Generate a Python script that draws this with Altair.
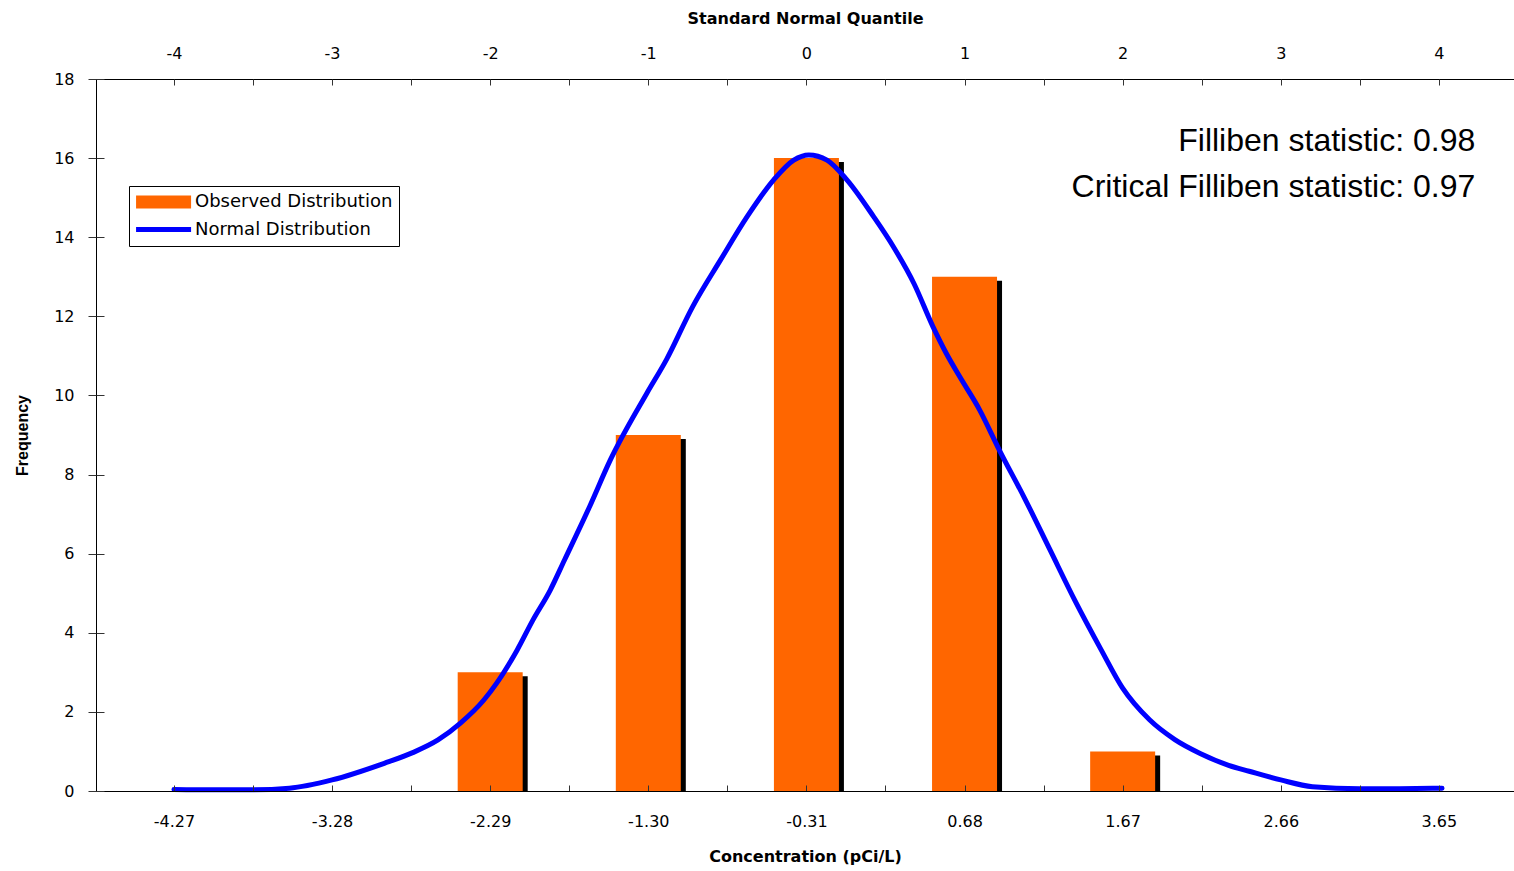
import altair as alt
import pandas as pd

# ---- data ----
quantile_ticks = [-4, -3, -2, -1, 0, 1, 2, 3, 4]
half_ticks = [-4, -3.5, -3, -2.5, -2, -1.5, -1, -0.5, 0, 0.5, 1, 1.5, 2, 2.5, 3, 3.5, 4]
conc_labels = ["-4.27", "-3.28", "-2.29", "-1.30", "-0.31", "0.68", "1.67", "2.66", "3.65"]
freq_ticks = [0, 2, 4, 6, 8, 10, 12, 14, 16, 18]

bar_quantile = [-2, -1, 0, 1, 2]
bar_frequency = [3, 9, 16, 13, 1]

curve_quantile = [-4.0, -3.75, -3.5, -3.27, -3.0, -2.67, -2.49, -2.33, -2.19, -2.04,
                  -1.96, -1.83, -1.73, -1.62, -1.53, -1.37, -1.24, -1.01, -0.886, -0.72,
                  -0.544, -0.375, -0.207, -0.08, 0.015, 0.13, 0.256, 0.425, 0.55, 0.68,
                  0.80, 0.885, 0.97, 1.096, 1.22, 1.38, 1.54, 1.70, 1.86, 2.0,
                  2.17, 2.33, 2.49, 2.67, 2.8, 3.0, 3.2, 3.5, 3.75, 4.02]
curve_frequency = [0.04, 0.03, 0.03, 0.07, 0.28, 0.70, 0.97, 1.29, 1.71, 2.30,
                   2.72, 3.56, 4.32, 5.08, 5.84, 7.20, 8.37, 10.05, 10.90, 12.24,
                   13.42, 14.52, 15.45, 15.95, 16.08, 15.95, 15.45, 14.52, 13.76, 12.83,
                   11.74, 11.06, 10.47, 9.63, 8.62, 7.40, 6.10, 4.80, 3.60, 2.60,
                   1.80, 1.30, 0.95, 0.65, 0.50, 0.28, 0.11, 0.06, 0.06, 0.07]

series_names = ["Observed Distribution", "Normal Distribution"]
filliben_stat = 0.98
critical_filliben = 0.97
annotation_lines = [f"Filliben statistic: {filliben_stat:.2f}",
                    f"Critical Filliben statistic: {critical_filliben:.2f}"]

bars = pd.DataFrame({"q": bar_quantile, "freq": bar_frequency})
curve = pd.DataFrame({"q": curve_quantile, "freq": curve_frequency,
                      "series": ["Normal Distribution"] * len(curve_quantile)})
notes = pd.DataFrame({"label": annotation_lines, "freq": [16.44, 15.27]})

FONT = "Liberation Sans"
WIDE = "DejaVu Sans"
ORANGE = "#FF6600"
BLUE = "#0000FF"

xs = alt.Scale(domain=[-4.493, 4.475], nice=False, zero=False, padding=0)
ys = alt.Scale(domain=[0, 18], nice=False, zero=False, padding=0)

label_expr = ("[" + ",".join(f"'{s}'" for s in conc_labels) + "][indexof(["
              + ",".join(str(v) for v in quantile_ticks) + "], datum.value)]")

# shadow bars + inward tick axes (bottom and left)
shadow = alt.Chart(bars).mark_bar(width=65, color="black", xOffset=5, x2Offset=5, yOffset=4,
                                  clip=True).encode(
    x=alt.X("q:Q", scale=xs,
            axis=alt.Axis(orient="bottom", offset=-6, tickSize=6, domain=False, labels=False,
                          grid=False, values=half_ticks, title=None, tickColor="#333333", zindex=1)),
    y=alt.Y("freq:Q", scale=ys,
            axis=alt.Axis(orient="left", offset=-8, tickSize=8, domain=False, labels=False,
                          grid=False, values=freq_ticks, title=None, tickColor="#333333", zindex=1)),
)

observed = alt.Chart(bars).mark_bar(width=65, color=ORANGE).encode(
    x=alt.X("q:Q", scale=xs,
            axis=alt.Axis(orient="bottom", values=quantile_ticks, labelExpr=label_expr, ticks=False,
                          tickSize=0, labelPadding=22, title="Concentration (pCi/L)",
                          titleFont=WIDE, titleFontSize=16, titlePadding=19,
                          domainColor="black", zindex=1)),
    y=alt.Y("freq:Q", scale=ys,
            axis=alt.Axis(orient="left", values=freq_ticks, tickSize=8, labelPadding=14,
                          title="Frequency", titleFont=FONT, titleFontSize=16, titlePadding=23,
                          domainColor="black", tickColor="#333333")),
)

legend = alt.Legend(title=None, orient="none", legendX=33, legendY=107,
                    symbolType="M-2.6,0H13.4", symbolSize=47.3, labelFont=WIDE, labelFontSize=18,
                    labelColor="black", labelOffset=40, labelLimit=500, clipHeight=20,
                    strokeColor="black", fillColor="white", padding=6, rowPadding=7.5)

normal = alt.Chart(curve).mark_line(interpolate="monotone", strokeCap="round",
                                    strokeJoin="round").encode(
    x=alt.X("q:Q", scale=xs,
            axis=alt.Axis(orient="top", values=quantile_ticks, labelExpr="'' + datum.value",
                          ticks=False, tickSize=0, labelPadding=18,
                          title="Standard Normal Quantile", titleFont=WIDE, titleFontSize=16,
                          titlePadding=19, domainColor="black")),
    y=alt.Y("freq:Q", scale=ys, axis=None),
    stroke=alt.Stroke("series:N", scale=alt.Scale(domain=series_names, range=[ORANGE, BLUE]),
                      legend=legend),
    strokeWidth=alt.StrokeWidth("series:N",
                                scale=alt.Scale(type="point", padding=0, domain=series_names,
                                                range=[13, 5]),
                                legend=legend),
)

text = alt.Chart(notes).mark_text(align="right", baseline="middle", fontSize=32, font=FONT,
                                  color="black").encode(
    x=alt.XDatum(4.23, type="quantitative", scale=xs,
                 axis=alt.Axis(orient="top", offset=-6, tickSize=6, domain=False, labels=False,
                               grid=False, values=half_ticks, title=None, tickColor="#333333",
                               zindex=1)),
    y=alt.Y("freq:Q", scale=ys, axis=None),
    text="label:N",
)

chart = alt.layer(shadow, observed, normal, text).resolve_axis(
    x="independent", y="independent"
).properties(
    width=1418, height=712,
    autosize=alt.AutoSizeParams(type="none"),
    padding={"left": 96, "top": 79, "right": 0, "bottom": 80},
).configure_view(strokeWidth=0).configure_axis(
    labelFont=WIDE, titleFont=WIDE, labelColor="black", titleColor="black",
    labelFontSize=16, titleFontSize=16, titleFontWeight="bold", grid=False,
)

chart.save("out.html", embed_options={"renderer": "svg", "actions": False})
